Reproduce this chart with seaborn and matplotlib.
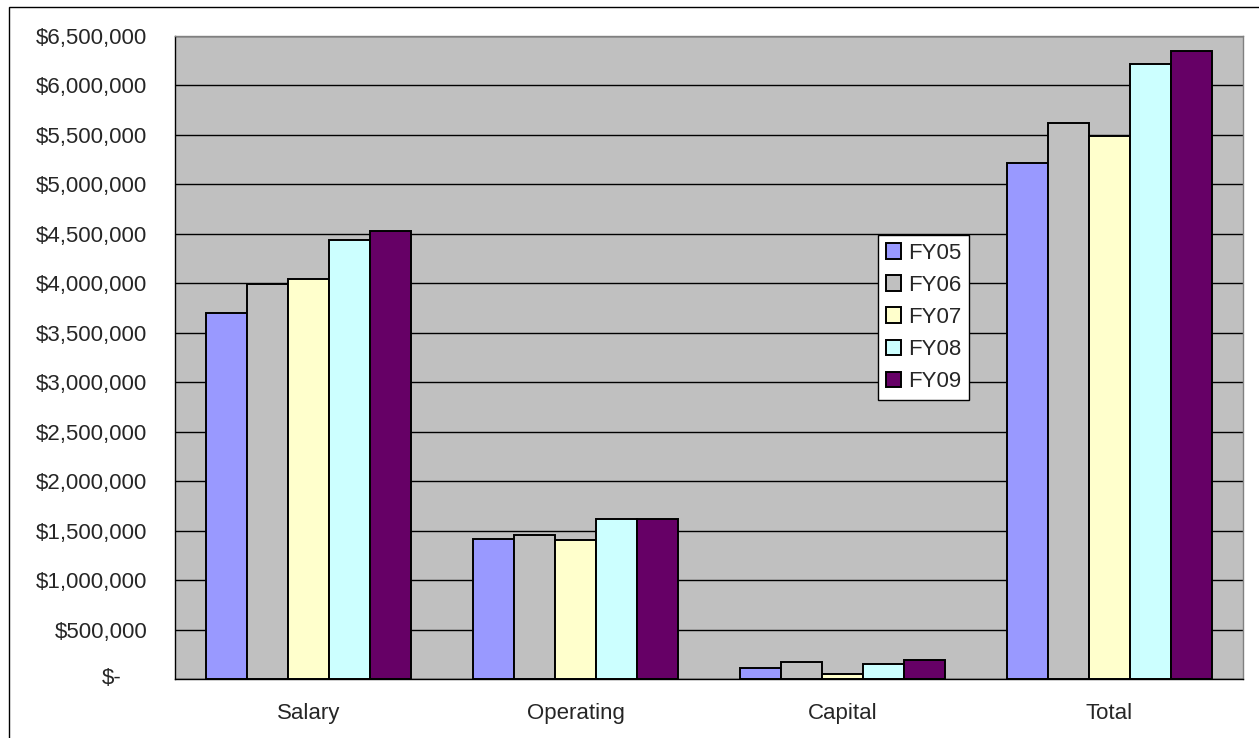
import matplotlib
matplotlib.use("Agg")
import matplotlib.pyplot as plt
import matplotlib.ticker as mticker
import matplotlib.transforms as mtransforms
from matplotlib.patches import Rectangle
import numpy as np
import pandas as pd
import seaborn as sns

# Budget by category and fiscal year
categories = ["Salary", "Operating", "Capital", "Total"]
years = ["FY05", "FY06", "FY07", "FY08", "FY09"]
fy05 = [3700000, 1412000, 115000, 5219000]
fy06 = [3990000, 1459000, 176000, 5618000]
fy07 = [4045000, 1405000, 55000, 5492000]
fy08 = [4438000, 1617000, 156000, 6220000]
fy09 = [4532000, 1617000, 189000, 6348000]
colors = ["#9999FF", "#C0C0C0", "#FFFFCC", "#CCFFFF", "#660066"]
ytick_values = np.arange(0, 6500001, 500000)

rows = []
for year, vals in zip(years, [fy05, fy06, fy07, fy08, fy09]):
    for cat, v in zip(categories, vals):
        rows.append({"category": cat, "year": year, "value": v})
df = pd.DataFrame(rows)

sns.set_style("white")
plt.rcParams["font.family"] = ["Liberation Sans", "DejaVu Sans"]
FS = 16

fig = plt.figure(figsize=(12.59, 7.38), dpi=100)
ax = fig.add_axes([175 / 1259, 1 - 679 / 738, 1068 / 1259, 643 / 738])
ax.set_facecolor("#C0C0C0")

sns.barplot(data=df, x="category", y="value", hue="year", order=categories,
            hue_order=years, palette=colors, saturation=1, width=0.77,
            edgecolor="black", linewidth=1.4, errorbar=None, ax=ax)

ax.set_ylim(0, 6500000)
ax.set_xlim(-0.5, len(categories) - 0.5)
ax.set_yticks(ytick_values)
# accounting style: zero is drawn separately as "$-"
ax.yaxis.set_major_formatter(mticker.FuncFormatter(
    lambda v, p: "" if v == 0 else f"${v:,.0f}"))
ax.yaxis.grid(True, color="black", linewidth=1.0)
ax.set_axisbelow(True)
ax.set_xlabel("")
ax.set_ylabel("")

trans = mtransforms.blended_transform_factory(ax.transAxes, ax.transData)
ax.text(-53 / 1068, 0, "$-", transform=trans, ha="right", va="center", fontsize=FS)

# category separators on the x axis
ax.set_xticks(np.arange(-0.5, len(categories)), minor=True)
ax.tick_params(axis="x", which="major", length=0, labelsize=FS, pad=17)
ax.tick_params(axis="x", which="minor", length=6, width=1, color="black", direction="out")
ax.tick_params(axis="y", length=6, width=1, color="black", direction="out",
               labelsize=FS, pad=14)

for side in ["left", "bottom"]:
    ax.spines[side].set_color("black")
    ax.spines[side].set_linewidth(1.0)
for side in ["top", "right"]:
    ax.spines[side].set_color("#808080")
    ax.spines[side].set_linewidth(1.0)

leg = ax.legend(loc="upper left", bbox_to_anchor=(0.658, 0.6905), fontsize=FS,
                frameon=True, fancybox=False, framealpha=1, edgecolor="black",
                facecolor="white", handlelength=0.7, handleheight=0.7,
                handletextpad=0.3, borderpad=0.35, labelspacing=0.5,
                borderaxespad=0)
leg.get_frame().set_linewidth(1.0)

# chart area border (top and left visible)
fig.patches.append(Rectangle((9 / 1259, -0.1), 1.2, 1 - 7 / 738 + 0.1,
                             transform=fig.transFigure, fill=False,
                             edgecolor="black", linewidth=1.0))

fig.savefig("out.png", dpi=100)
